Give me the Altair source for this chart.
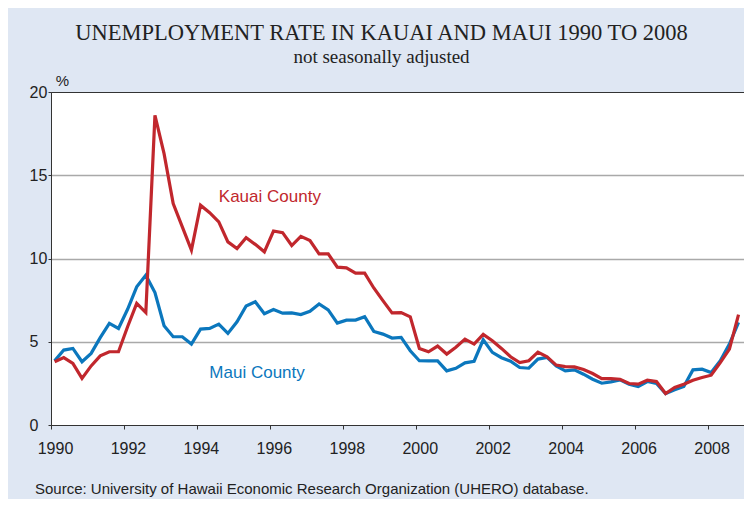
import altair as alt
import pandas as pd

# Quarterly unemployment rates (%), 1990Q1 .. 2008Q4
kauai = [3.8, 4.05, 3.7, 2.8, 3.55, 4.15, 4.4, 4.4, 5.9, 7.3, 6.75, 18.6,
         16.3, 13.3, 11.9, 10.5, 13.2, 12.75, 12.2, 11.0, 10.6, 11.25, 10.85, 10.4,
         11.65, 11.55, 10.78, 11.33, 11.08, 10.28, 10.28, 9.48, 9.44, 9.12, 9.12, 8.23,
         7.47, 6.73, 6.75, 6.5, 4.6, 4.4, 4.74, 4.26, 4.67, 5.16, 4.86, 5.44,
         5.06, 4.6, 4.1, 3.75, 3.86, 4.38, 4.1, 3.6, 3.51, 3.49, 3.33, 3.09,
         2.79, 2.79, 2.75, 2.49, 2.45, 2.69, 2.61, 1.89, 2.25, 2.45, 2.69, 2.85,
         2.99, 3.75, 4.56, 6.63]
maui = [3.85, 4.5, 4.6, 3.8, 4.3, 5.25, 6.1, 5.8, 6.95, 8.3, 9.0, 7.95,
        5.96, 5.3, 5.3, 4.86, 5.76, 5.8, 6.06, 5.5, 6.2, 7.15, 7.4, 6.68,
        6.94, 6.72, 6.73, 6.63, 6.83, 7.27, 6.91, 6.12, 6.3, 6.3, 6.5, 5.62,
        5.46, 5.22, 5.26, 4.46, 3.86, 3.85, 3.85, 3.25, 3.4, 3.73, 3.83, 5.12,
        4.36, 4.04, 3.83, 3.45, 3.41, 3.96, 4.06, 3.55, 3.25, 3.31, 3.05, 2.75,
        2.51, 2.59, 2.71, 2.45, 2.31, 2.61, 2.49, 1.89, 2.11, 2.31, 3.31, 3.35,
        3.15, 3.86, 4.86, 6.16]

years = list(range(1990, 2009))
quarters = [1, 2, 3, 4]
axis_years = list(range(1990, 2010))

series_names = ["Kauai County", "Maui County"]
series_colors = ["#c1272d", "#0b77bd"]

label_text = ["Kauai County", "Maui County"]
label_t = [1996.0, 1995.65]
label_rate = [13.4, 2.8]

title_text = "UNEMPLOYMENT RATE IN KAUAI AND MAUI 1990 TO 2008"
subtitle_text = "not seasonally adjusted"
source_text = "Source: University of Hawaii Economic Research Organization (UHERO) database."

periods = [(y, q) for y in years for q in quarters]
rows = []
for (y, q), k, m in zip(periods, kauai, maui):
    t = y + (q - 1) / 4 + 0.1
    rows.append({"t": t, "rate": k, "series": "Kauai County"})
    rows.append({"t": t, "rate": m, "series": "Maui County"})
df = pd.DataFrame(rows)

labels_df = pd.DataFrame({"t": label_t, "rate": label_rate, "label": label_text})

x_enc = alt.X(
    "t:Q",
    scale=alt.Scale(domain=[1990, 2009], nice=False, zero=False),
    axis=alt.Axis(
        values=axis_years, format="d",
        labelExpr="(datum.value % 2 == 0 && datum.value < 2009) ? datum.label : ''",
        grid=False, tickSize=4, tickColor="#333", domainColor="#333",
        labelFont="Liberation Sans", labelFontSize=16, labelColor="#222",
        labelPadding=11, labelOffset=4, labelOverlap=False, labelFlush=False,
        title=None,
    ),
)
y_enc = alt.Y(
    "rate:Q",
    scale=alt.Scale(domain=[0, 20], nice=False),
    axis=alt.Axis(
        values=[0, 5, 10, 15, 20], grid=True,
        gridColor={"condition": {"test": "datum.value == 0 || datum.value == 20",
                                 "value": "transparent"}, "value": "#a9a9a9"},
        gridWidth=1.6, tickSize=3, tickColor="#333", domainColor="#333",
        labelFont="Liberation Sans", labelFontSize=16, labelColor="#222",
        labelAlign="left", labelBaseline="middle", labelPadding=19,
        title="%", titleAngle=0, titleX=11, titleY=-12, titleAlign="center",
        titleBaseline="middle", titleFont="Liberation Sans", titleFontSize=15,
        titleFontWeight="normal", titleColor="#222",
    ),
)

base = alt.Chart(df)
maui_line = base.transform_filter(alt.datum.series == "Maui County").mark_line(
    color=series_colors[1], strokeWidth=3.2
).encode(x=x_enc, y=y_enc)
kauai_line = base.transform_filter(alt.datum.series == "Kauai County").mark_line(
    color=series_colors[0], strokeWidth=3.2
).encode(x=x_enc, y=y_enc)

labels = alt.Chart(labels_df).mark_text(
    font="Liberation Sans", fontSize=17, align="center", baseline="alphabetic"
).encode(
    x="t:Q", y="rate:Q", text="label:N",
    color=alt.Color("label:N", scale=alt.Scale(domain=series_names, range=series_colors),
                    legend=None),
)

source = alt.Chart(pd.DataFrame({"s": [source_text]})).mark_text(
    font="Liberation Sans", fontSize=15, align="left", baseline="alphabetic", color="#222"
).encode(x=alt.value(-16), y=alt.value(402), text="s:N")

chart = alt.layer(maui_line, kauai_line, labels, source).properties(
    width=693, height=333,
    padding={"left": 43, "top": 84, "right": 0, "bottom": 74},
    autosize=alt.AutoSizeParams(type="none"),
    background="#dfe7f3",
    title=alt.TitleParams(
        text=title_text, subtitle=subtitle_text,
        font="Liberation Serif", fontSize=22.5, fontWeight="normal", color="#222",
        subtitleFont="Liberation Serif", subtitleFontSize=19, subtitleColor="#222",
        anchor="middle", dx=-16, offset=6, subtitlePadding=4,
    ),
).configure_view(stroke="#333", strokeWidth=1, fill="white")

chart.save("out.html", embed_options={"renderer": "svg", "actions": False})
